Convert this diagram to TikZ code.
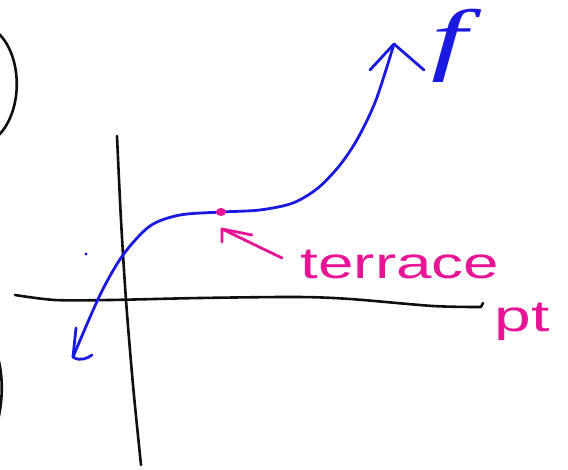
\documentclass[tikz,border=0pt]{standalone}
\usepackage{fontspec}
\setmainfont{Liberation Sans}
\newfontfamily\penserif{Liberation Serif}
\definecolor{penblue}{RGB}{25,25,225}
\definecolor{penpink}{RGB}{232,20,150}
\definecolor{penblack}{RGB}{15,15,15}
\begin{document}
\begin{tikzpicture}[x=1pt,y=-1pt,line cap=round,line join=round,
  blackink/.style={draw=penblack,line width=2.6pt},
  blueink/.style={draw=penblue,line width=2.8pt},
  pinkink/.style={draw=penpink,line width=2.8pt},
  pinktext/.style={text=penpink,inner sep=0pt,font=\fontsize{44}{44}\selectfont},
  bluetext/.style={text=penblue,inner sep=0pt,font=\penserif\itshape\fontsize{80}{80}\selectfont}]
\useasboundingbox (0,0) rectangle (568,470);
% left partial circles
\draw[blackink] (-2,33) .. controls (22,55) and (24,110) .. (-2,136);
\draw[blackink] (-2,358) .. controls (3,375) and (3,400) .. (-2,420);
% axes
\draw[blackink] plot[smooth] coordinates {(117,136) (121,220) (126,300) (133,385) (141,465)};
\draw[blackink] plot[smooth] coordinates {(15,295) (55,300) (110,300) (200,298) (297,297) (350,299) (433,306) (481,307)} -- (483,303);
% blue curve
\coordinate (lowtip) at (73,357);
\coordinate (toptip) at (394,44);
\draw[blueink] plot[smooth] coordinates {(lowtip) (100,295) (123,255) (150,226) (180,215) (222,212) (260,210) (293,203) (318,188) (340,165) (358,138) (376,100) (toptip)};
\draw[blueink] (76,328) -- (lowtip) .. controls (80,362) and (88,358) .. (92,355);
\draw[blueink] (370,70) -- (toptip) -- (424,70);
\fill[penblue] (86,254) circle (1.6pt);
\node[bluetext,anchor=base,xscale=1.6] (f) at (449,66) {f};
% terrace point
\fill[penpink] (221,212) ellipse (5pt and 4pt);
\coordinate (atip) at (222,229);
\draw[pinkink] (222,242) -- (atip) -- (252,235);
\draw[pinkink] (atip) -- (282,258);
\node[pinktext,anchor=base,xscale=1.45] (terrace) at (400,279) {terrace};
\node[pinktext,anchor=base,xscale=1.5] (pt) at (522,332) {pt};
\end{tikzpicture}
\end{document}
